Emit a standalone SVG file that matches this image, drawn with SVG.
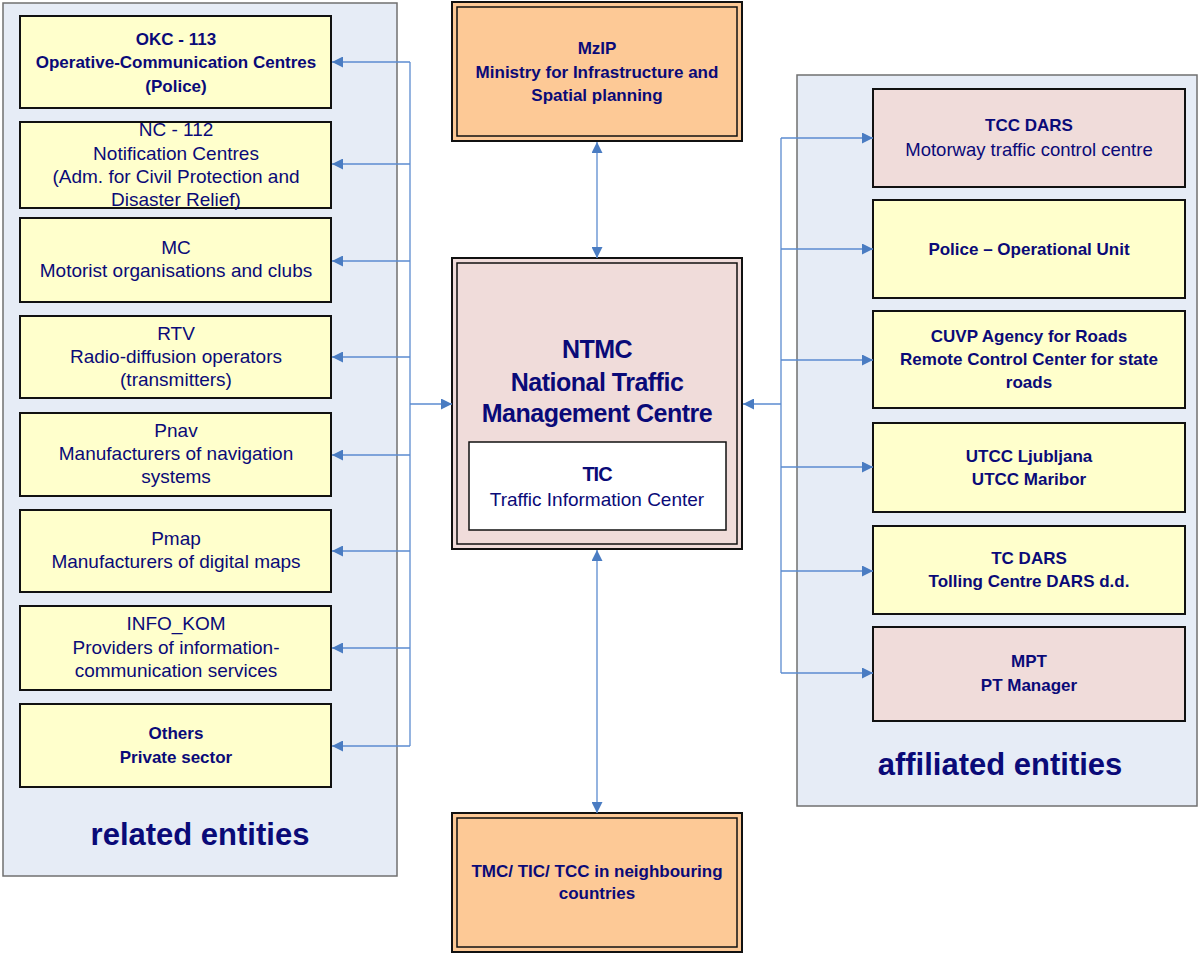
<svg xmlns="http://www.w3.org/2000/svg" width="1198" height="954" viewBox="0 0 1198 954">
<defs>
<marker id="ah" viewBox="0 0 10 10" refX="10" refY="5" markerWidth="19" markerHeight="11" markerUnits="userSpaceOnUse" orient="auto-start-reverse">
<path d="M0,0 L10,5 L0,10 z" fill="#4a7cc2"/>
</marker>
<style>
.cont{fill:#e6ecf6;stroke:#707070;stroke-width:1.5}
.box{stroke:#111;stroke-width:2}
.y{fill:#ffffcc}
.p{fill:#f0dcda}
.o{fill:#fdc996}
.t{font-family:"Liberation Sans",Arial,sans-serif;fill:#0a0a78;text-anchor:middle;font-size:19px}
.b{font-weight:bold;font-size:17px;letter-spacing:0}
.big{font-family:"Liberation Sans",Arial,sans-serif;fill:#0a0a78;text-anchor:middle;font-weight:bold}
.c{fill:none;stroke:#5b8bd0;stroke-width:1.3}
</style>
</defs>
<rect width="1198" height="954" fill="#fff"/>

<g id="related-entities">
<rect class="cont" x="3" y="3" width="394" height="873"/>
<text class="big" x="200" y="845" font-size="31">related entities</text>
</g>
<g id="affiliated-entities">
<rect class="cont" x="797" y="75" width="400" height="731"/>
<text class="big" x="1000" y="775" font-size="31">affiliated entities</text>
</g>

<g id="okc">
<rect class="box y" x="20" y="16" width="311" height="92"/>
<text class="t b" x="176" y="45">OKC - 113</text>
<text class="t b" x="176" y="68">Operative-Communication Centres</text>
<text class="t b" x="176" y="92">(Police)</text>
</g>
<g id="nc">
<rect class="box y" x="20" y="122" width="311" height="86"/>
<text class="t" x="176" y="136">NC - 112</text>
<text class="t" x="176" y="160">Notification Centres</text>
<text class="t" x="176" y="183">(Adm. for Civil Protection and</text>
<text class="t" x="176" y="206">Disaster Relief)</text>
</g>
<g id="mc">
<rect class="box y" x="20" y="218" width="311" height="84"/>
<text class="t" x="176" y="254">MC</text>
<text class="t" x="176" y="277">Motorist organisations and clubs</text>
</g>
<g id="rtv">
<rect class="box y" x="20" y="316" width="311" height="82"/>
<text class="t" x="176" y="340">RTV</text>
<text class="t" x="176" y="363">Radio-diffusion operators</text>
<text class="t" x="176" y="386">(transmitters)</text>
</g>
<g id="pnav">
<rect class="box y" x="20" y="413" width="311" height="83"/>
<text class="t" x="176" y="437">Pnav</text>
<text class="t" x="176" y="460">Manufacturers of navigation</text>
<text class="t" x="176" y="483">systems</text>
</g>
<g id="pmap">
<rect class="box y" x="20" y="510" width="311" height="82"/>
<text class="t" x="176" y="545">Pmap</text>
<text class="t" x="176" y="568">Manufacturers of digital maps</text>
</g>
<g id="infokom">
<rect class="box y" x="20" y="606" width="311" height="84"/>
<text class="t" x="176" y="630">INFO_KOM</text>
<text class="t" x="176" y="654">Providers of information-</text>
<text class="t" x="176" y="677">communication services</text>
</g>
<g id="others">
<rect class="box y" x="20" y="704" width="311" height="83"/>
<text class="t b" x="176" y="739">Others</text>
<text class="t b" x="176" y="763">Private sector</text>
</g>

<g id="mzip">
<rect class="box o" x="452" y="2" width="290" height="139"/>
<rect x="457" y="7" width="280" height="129" fill="none" stroke="#111" stroke-width="1.5"/>
<text class="t b" x="597" y="54">MzIP</text>
<text class="t b" x="597" y="78">Ministry for Infrastructure and</text>
<text class="t b" x="597" y="101">Spatial planning</text>
</g>
<g id="ntmc">
<rect class="box p" x="452" y="258" width="290" height="291"/>
<rect x="457" y="263" width="280" height="281" fill="none" stroke="#111" stroke-width="1.5"/>
<text class="big" x="597" y="358" font-size="25" letter-spacing="-0.5">NTMC</text>
<text class="big" x="597" y="391" font-size="25" letter-spacing="-0.5">National Traffic</text>
<text class="big" x="597" y="422" font-size="25" letter-spacing="-0.5">Management Centre</text>
</g>
<g id="tic">
<rect x="469" y="442" width="257" height="88" fill="#fff" stroke="#111" stroke-width="1.5"/>
<text class="big" x="597" y="481" font-size="20" letter-spacing="-1">TIC</text>
<text class="t" x="597" y="506" font-size="18">Traffic Information Center</text>
</g>
<g id="tmc">
<rect class="box o" x="452" y="813" width="290" height="139"/>
<rect x="457" y="818" width="280" height="129" fill="none" stroke="#111" stroke-width="1.5"/>
<text class="t b" x="597" y="877">TMC/ TIC/ TCC in neighbouring</text>
<text class="t b" x="597" y="899">countries</text>
</g>

<g id="tccdars">
<rect class="box p" x="873" y="89" width="312" height="98"/>
<text class="t b" x="1029" y="131">TCC DARS</text>
<text class="t" x="1029" y="156" style="font-size:18.5px">Motorway traffic control centre</text>
</g>
<g id="police">
<rect class="box y" x="873" y="200" width="312" height="98"/>
<text class="t b" x="1029" y="255">Police – Operational Unit</text>
</g>
<g id="cuvp">
<rect class="box y" x="873" y="311" width="312" height="97"/>
<text class="t b" x="1029" y="342">CUVP Agency for Roads</text>
<text class="t b" x="1029" y="365">Remote Control Center for state</text>
<text class="t b" x="1029" y="388">roads</text>
</g>
<g id="utcc">
<rect class="box y" x="873" y="423" width="312" height="89"/>
<text class="t b" x="1029" y="462">UTCC Ljubljana</text>
<text class="t b" x="1029" y="485">UTCC Maribor</text>
</g>
<g id="tcdars">
<rect class="box y" x="873" y="526" width="312" height="88"/>
<text class="t b" x="1029" y="564">TC DARS</text>
<text class="t b" x="1029" y="587">Tolling Centre DARS d.d.</text>
</g>
<g id="mpt">
<rect class="box p" x="873" y="627" width="312" height="94"/>
<text class="t b" x="1029" y="667">MPT</text>
<text class="t b" x="1029" y="691">PT Manager</text>
</g>

<g id="connectors">
<path class="c" d="M410,62 V746"/>
<path class="c" d="M410,62 H332" marker-end="url(#ah)"/>
<path class="c" d="M410,164 H332" marker-end="url(#ah)"/>
<path class="c" d="M410,261 H332" marker-end="url(#ah)"/>
<path class="c" d="M410,357 H332" marker-end="url(#ah)"/>
<path class="c" d="M410,455 H332" marker-end="url(#ah)"/>
<path class="c" d="M410,551 H332" marker-end="url(#ah)"/>
<path class="c" d="M410,648 H332" marker-end="url(#ah)"/>
<path class="c" d="M410,746 H332" marker-end="url(#ah)"/>
<path class="c" d="M410,404 H452" marker-end="url(#ah)"/>
<path class="c" d="M597,142 V258" marker-start="url(#ah)" marker-end="url(#ah)"/>
<path class="c" d="M597,550 V813" marker-start="url(#ah)" marker-end="url(#ah)"/>
<path class="c" d="M781,138 V673"/>
<path class="c" d="M781,404 H743" marker-end="url(#ah)"/>
<path class="c" d="M781,138 H873" marker-end="url(#ah)"/>
<path class="c" d="M781,249 H873" marker-end="url(#ah)"/>
<path class="c" d="M781,360 H873" marker-end="url(#ah)"/>
<path class="c" d="M781,467 H873" marker-end="url(#ah)"/>
<path class="c" d="M781,571 H873" marker-end="url(#ah)"/>
<path class="c" d="M781,673 H873" marker-end="url(#ah)"/>
</g>
</svg>
